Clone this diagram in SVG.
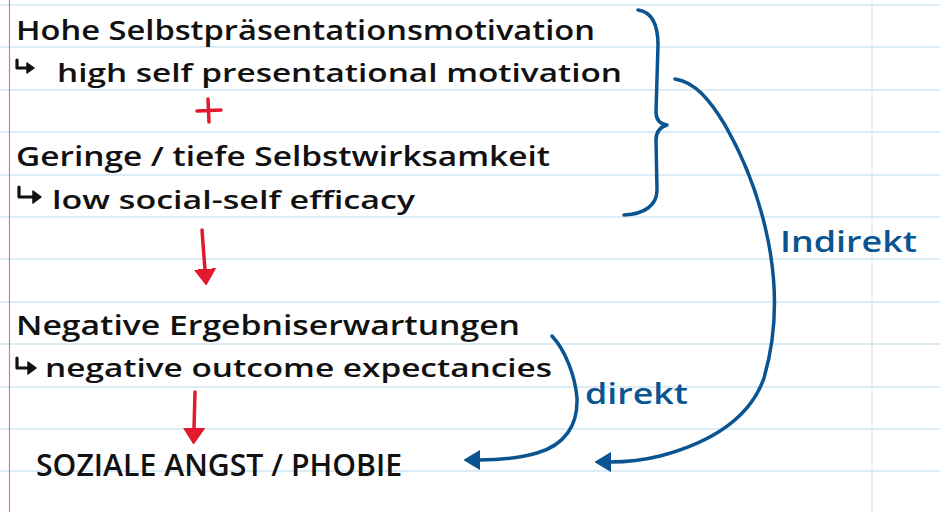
<svg xmlns="http://www.w3.org/2000/svg" width="940" height="512" viewBox="0 0 940 512">
<style>
.rule{stroke:#cfe6f5;stroke-width:1.5}
.txt{font-family:"Open Sans","Noto Sans",sans-serif;font-weight:600;fill:#111}
.blue{font-family:"Open Sans","Noto Sans",sans-serif;font-weight:600;fill:#0b5492}
.hook{fill:none;stroke:#111;stroke-width:3.2;stroke-linecap:round;stroke-linejoin:round}
.hookhead{fill:#111;stroke:#111;stroke-width:1.5;stroke-linejoin:round}
.red{fill:none;stroke:#e3192d;stroke-width:3.5;stroke-linecap:round}
.bl{fill:none;stroke:#0b5492;stroke-width:3.5;stroke-linecap:round;stroke-linejoin:round}
</style>
<defs>
<marker id="rh" viewBox="0 -11 17 22" refX="1" refY="0" markerWidth="17" markerHeight="22" orient="auto" markerUnits="userSpaceOnUse">
<path d="M0,-10 L15,0 L0,10 Z" fill="#e3192d" stroke="#e3192d" stroke-width="2" stroke-linejoin="round"/>
</marker>
<marker id="bh" viewBox="0 -11 18 22" refX="1" refY="0" markerWidth="18" markerHeight="22" orient="auto" markerUnits="userSpaceOnUse">
<path d="M0,-9 L15,0 L0,9 Z" fill="#0b5492" stroke="#0b5492" stroke-width="2" stroke-linejoin="round"/>
</marker>
</defs>
<rect width="940" height="512" fill="#ffffff"/>
<g id="paper">
<line class="rule" x1="0" y1="5" x2="940" y2="5"/>
<line class="rule" x1="0" y1="47" x2="940" y2="47"/>
<line class="rule" x1="0" y1="90" x2="940" y2="90"/>
<line class="rule" x1="0" y1="132" x2="940" y2="132"/>
<line class="rule" x1="0" y1="175" x2="940" y2="175"/>
<line class="rule" x1="0" y1="217" x2="940" y2="217"/>
<line class="rule" x1="0" y1="259" x2="940" y2="259"/>
<line class="rule" x1="0" y1="302" x2="940" y2="302"/>
<line class="rule" x1="0" y1="344" x2="940" y2="344"/>
<line class="rule" x1="0" y1="387" x2="940" y2="387"/>
<line class="rule" x1="0" y1="429" x2="940" y2="429"/>
<line class="rule" x1="0" y1="471" x2="940" y2="471"/>
<line x1="9.5" y1="0" x2="9.5" y2="512" stroke="#e87474" stroke-width="1.2"/>
<line x1="872" y1="0" x2="872" y2="512" stroke="#dde2e8" stroke-width="1.2"/>
</g>
<g id="node-motivation">
<text class="txt" x="16" y="40" font-size="27" textLength="579" lengthAdjust="spacingAndGlyphs">Hohe Selbstpräsentationsmotivation</text>
<path class="hook" d="M17,60 L17,68 L27,68"/>
<path class="hookhead" d="M27,63 L34,68 L27,73 Z"/>
<text class="txt" x="57" y="82" font-size="25" textLength="565" lengthAdjust="spacingAndGlyphs">high self presentational motivation</text>
</g>
<g id="plus">
<path class="red" d="M197,111 L221,110 M208,99 L209,122"/>
</g>
<g id="node-efficacy">
<text class="txt" x="16" y="166" font-size="27" textLength="534" lengthAdjust="spacingAndGlyphs">Geringe / tiefe Selbstwirksamkeit</text>
<path class="hook" d="M19,187 L19,197 L33,197"/>
<path class="hookhead" d="M33,191 L41,197 L33,203 Z"/>
<text class="txt" x="52" y="209" font-size="26" textLength="363" lengthAdjust="spacingAndGlyphs">low social-self efficacy</text>
</g>
<g id="brace">
<path class="bl" d="M638,10 C652,12 658,25 658,45 L656,112 C656,120 660,124 667,125 C660,127 656,132 656,140 L657,190 C657,205 645,214 624,215"/>
</g>
<g id="node-outcome">
<text class="txt" x="16" y="335" font-size="27" textLength="504" lengthAdjust="spacingAndGlyphs">Negative Ergebniserwartungen</text>
<path class="hook" d="M17,358 L17,368 L28,368"/>
<path class="hookhead" d="M28,362 L36,368 L28,374 Z"/>
<text class="txt" x="45" y="377" font-size="26" textLength="507" lengthAdjust="spacingAndGlyphs">negative outcome expectancies</text>
</g>
<g id="node-angst">
<text class="txt" x="36" y="476" font-size="31" textLength="366" lengthAdjust="spacingAndGlyphs">SOZIALE ANGST / PHOBIE</text>
</g>
<g id="connectors">
<path class="red" d="M202,230 L205,270" marker-end="url(#rh)"/>
<path class="red" d="M195,392 L194,429" marker-end="url(#rh)"/>
<path class="bl" d="M675,79 C695,82 710,100 725,125 C745,160 760,200 768,240 C776,280 778,330 764,378 C752,412 720,440 660,456 C640,461 625,462 610,462" marker-end="url(#bh)"/>
<path class="bl" d="M552,336 C565,350 575,375 577,398 C578,425 565,445 537,453 C520,458 505,460 479,460" marker-end="url(#bh)"/>
<text class="blue" x="780" y="252" font-size="28" textLength="137" lengthAdjust="spacingAndGlyphs">Indirekt</text>
<text class="blue" x="585" y="404" font-size="28" textLength="103" lengthAdjust="spacingAndGlyphs">direkt</text>
</g>
</svg>
